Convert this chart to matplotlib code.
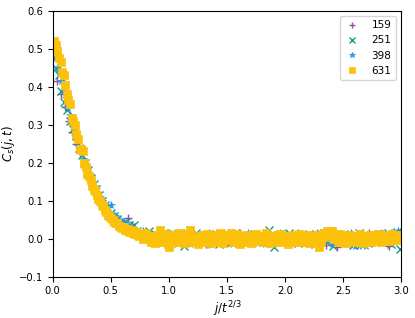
import numpy as np
import matplotlib
matplotlib.use("Agg")
import matplotlib.pyplot as plt

times = [159, 251, 398, 631]
labels = ["159", "251", "398", "631"]

c_159 = [0.415, 0.38, 0.348, 0.31, 0.28, 0.25, 0.225, 0.19, 0.165, 0.14, 0.12, 0.1, 0.085, 0.07,
         0.055, 0.045, 0.038, 0.03, 0.055, 0.025, 0.015, 0.01,
         0.012, -0.004, 0.008, 0.0, 0.015, -0.008, 0.004, 0.012, -0.012, 0.006,
         0.0, -0.01, 0.014, 0.004, -0.006, 0.01, -0.014, 0.002, 0.008, -0.004,
         0.012, -0.01, 0.006, 0.0, 0.016, -0.008, 0.004, -0.012, 0.01, 0.002,
         -0.006, 0.012, 0.0, -0.014, 0.008, 0.004, -0.008, 0.01, -0.004, 0.014,
         0.0, -0.012, 0.006, 0.01, -0.006, 0.002, -0.016, 0.008, -0.004, -0.022,
         0.012, 0.0, -0.008, 0.01, 0.004, -0.012, 0.006, 0.014, -0.006, 0.002,
         0.01, -0.004, -0.02, 0.008, 0.012, 0.0]

c_251 = [0.45, 0.43, 0.39, 0.36, 0.34, 0.31, 0.29, 0.27, 0.24, 0.22, 0.2, 0.18, 0.16, 0.145,
         0.13, 0.115, 0.1, 0.09, 0.08, 0.068, 0.06, 0.052, 0.045, 0.04, 0.045, 0.035, 0.03,
         0.035, 0.02, 0.015,
         0.01, 0.005, 0.02, -0.005, 0.012, 0.0, -0.008, 0.015, 0.004, -0.012,
         0.008, 0.0, 0.012, -0.006, -0.02, 0.01, -0.004, 0.008, 0.014, -0.01,
         0.004, -0.012, 0.01, 0.0, -0.006, 0.012, -0.014, 0.006, 0.002, -0.01,
         0.01, -0.004, 0.014, -0.012, 0.0, 0.008, -0.008, 0.004, 0.012, -0.006,
         0.002, -0.01, 0.01, 0.022, -0.004, -0.022, 0.006, 0.012, -0.008, 0.0,
         0.014, -0.006, 0.004, -0.012, 0.01, 0.0, -0.008, 0.012, 0.006, -0.014,
         0.008, -0.004, 0.016, -0.01, 0.002, -0.018, 0.01, -0.006, 0.004, 0.012,
         -0.012, 0.008, -0.016, 0.0, 0.014, -0.008, 0.006, -0.012, 0.01, 0.0,
         -0.01, 0.012, 0.004, -0.006, 0.014, -0.014, 0.008, 0.018, -0.028]

c_398 = [0.475, 0.45, 0.44, 0.415, 0.39, 0.37, 0.345, 0.325, 0.305, 0.285, 0.265, 0.245, 0.23,
         0.21, 0.195, 0.18, 0.165, 0.15, 0.14, 0.13, 0.12, 0.11, 0.1, 0.09, 0.085, 0.08, 0.088,
         0.065, 0.06, 0.055, 0.048, 0.045, 0.045, 0.04, 0.035, 0.03, 0.025, 0.022, 0.018, 0.015,
         0.012, 0.02, 0.008, 0.015, 0.0, 0.01, 0.005, -0.005, 0.012, 0.0,
         0.008, -0.01, 0.004, 0.015, -0.006, 0.0, 0.012, -0.012, 0.006, 0.015,
         0.016, -0.004, 0.01, -0.015, 0.002, 0.012, -0.008, 0.004, 0.0, -0.01,
         0.008, -0.016, 0.014, 0.003, -0.006, 0.012, 0.0, 0.01, -0.012, 0.015,
         0.004, -0.015, -0.006, 0.01, 0.0, 0.008, -0.01, 0.012, -0.004, 0.006,
         0.014, -0.008, 0.0, -0.012, 0.008, 0.003, -0.006, 0.012, -0.014, 0.004,
         0.01, -0.004, 0.006, -0.01, 0.0, 0.014, -0.008, 0.004, 0.012, -0.006,
         0.002, -0.012, 0.008, 0.0, -0.004, 0.012, 0.006, -0.01, 0.004, 0.01,
         -0.008, 0.0, 0.014, -0.006, 0.008, -0.012, 0.004, 0.01, 0.0, -0.014,
         0.006, 0.012, -0.004, 0.008, -0.01, 0.002, 0.01, -0.006, 0.014, -0.016,
         -0.018, -0.015, -0.018, -0.016, -0.012, -0.018, 0.004, 0.01, -0.006, 0.012,
         0.008, 0.0, 0.014, -0.004, 0.01, -0.01, 0.006, 0.012, 0.0, 0.015,
         0.02, 0.012]

c_631 = [0.52, 0.51, 0.495, 0.475, 0.465, 0.44, 0.43, 0.405, 0.38, 0.365, 0.355, 0.318, 0.31,
         0.30, 0.275, 0.262, 0.236, 0.235, 0.23, 0.2, 0.19, 0.17, 0.165, 0.155, 0.14, 0.13,
         0.125, 0.115, 0.105, 0.1, 0.09, 0.085, 0.075, 0.07, 0.062, 0.06, 0.055, 0.05, 0.045,
         0.042, 0.04, 0.033, 0.03, 0.028, 0.03, 0.022, 0.025, 0.02, 0.018, 0.022, 0.015, 0.012,
         0.018, 0.01, 0.006, 0.012, 0.0, 0.008, 0.015, 0.005, -0.002, -0.01,
         -0.005, 0.008, -0.012, 0.01, -0.003, 0.022, 0.005, -0.008, 0.012, 0.0,
         -0.015, -0.022, 0.006, -0.004, 0.01, -0.01, 0.003, 0.015, -0.006, 0.0,
         -0.012, 0.008, 0.012, -0.003, 0.022, 0.005, -0.01, 0.0, 0.008, -0.014,
         0.004, -0.006, 0.01, -0.01, 0.002, 0.012, -0.004, -0.012, 0.006, 0.0,
         0.01, -0.008, 0.004, 0.014, -0.006, -0.012, 0.008, 0.0, -0.004, 0.01,
         0.015, -0.01, 0.003, -0.006, 0.012, 0.0, -0.014, 0.006, 0.008, -0.004,
         0.01, -0.008, 0.002, -0.012, 0.006, 0.0, 0.012, -0.006, -0.002, 0.008,
         -0.01, 0.004, 0.014, -0.004, 0.0, -0.012, 0.008, 0.003, -0.008, 0.01,
         0.0, -0.006, 0.012, -0.01, 0.004, 0.008, -0.014, 0.002, -0.004, 0.006,
         0.01, -0.008, 0.0, 0.012, -0.006, 0.004, -0.01, 0.008, -0.003, 0.01,
         -0.012, 0.003, 0.006, -0.006, 0.0, 0.01, -0.022, -0.008, 0.012, 0.004,
         0.016, 0.02, 0.008, 0.014, 0.02, -0.002, 0.01, 0.004, -0.008, 0.012,
         0.0, -0.006, 0.008, -0.012, 0.004, 0.01, -0.004, -0.01, 0.002, 0.006,
         -0.008, 0.0, 0.012, -0.006, -0.012, 0.004, 0.008, -0.004, 0.01, -0.01,
         0.002, 0.008, -0.006, 0.012, 0.0, -0.008, 0.006, 0.01, -0.004, 0.002,
         0.008, -0.006, 0.012, 0.0, 0.006, -0.004, 0.01, 0.004]

series = [c_159, c_251, c_398, c_631]
markers = ["+", "x", "*", "s"]
colors = ["#984ea3", "#179c8e", "#1f98e8", "#fcc10a"]
sizes = [5.5, 5.5, 5.5, 6.0]

plt.rcParams["font.size"] = 7.5
fig = plt.figure(figsize=(4.15, 3.18), dpi=100)
ax = fig.add_axes([0.127, 0.130, 0.839, 0.836])

for t, c, m, col, ms, lab in zip(times, series, markers, colors, sizes, labels):
    j = np.arange(1, len(c) + 1)
    x = j / t ** (2 / 3)
    ax.plot(x, c, linestyle="none", marker=m, color=col, markersize=ms,
            markeredgewidth=1.0 if m in "+x" else 0.5, label=lab)

ax.set_xlim(0, 3.0)
ax.set_ylim(-0.1, 0.6)
ax.set_xticks(np.arange(0, 3.01, 0.5))
ax.set_yticks(np.arange(-0.1, 0.61, 0.1))
ax.tick_params(labelsize=7.2)
ax.set_xlabel(r"$j/t^{2/3}$", fontsize=8.5)
ax.set_ylabel(r"$C_s(j,t)$", fontsize=8.5)
ax.yaxis.set_label_coords(-0.103, 0.5)
ax.xaxis.set_label_coords(0.5, -0.084)
ax.legend(loc="upper right", fontsize=7.5, markerscale=0.8, handlelength=1.4,
          handletextpad=1.2)

fig.savefig("out.png", dpi=100)
